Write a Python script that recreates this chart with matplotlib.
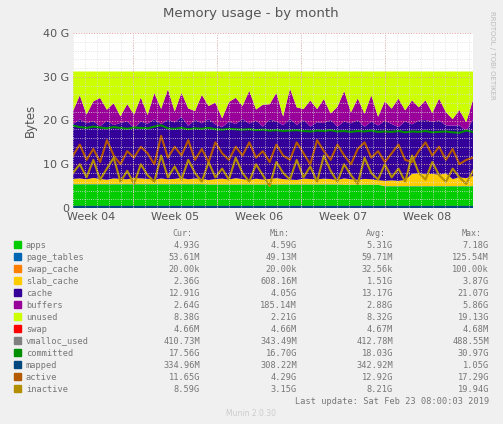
import numpy as np
import matplotlib.pyplot as plt
from matplotlib.ticker import MultipleLocator

# 60 samples over ~33.3 days, values in GB
apps = [5.4]*20 + [5.35]*20 + [5.3]*6 + [4.95]*14
page_tables = [0.06]*60
swap_cache = [0.0]*60
slab = [1.2, 1.3, 1.1, 1.4, 1.2, 1.0, 1.3, 1.2, 1.1, 1.4, 1.3, 1.2, 1.0, 1.3, 1.1, 1.2, 1.4, 1.1,
        1.3, 1.2, 1.0, 1.2, 1.3, 1.1, 1.4, 1.2, 1.0, 1.3, 1.1, 1.2, 1.4, 1.2, 1.1, 1.0, 1.3, 1.2,
        1.1, 1.3, 1.2, 1.0, 1.4, 1.2, 1.1, 1.3, 1.2, 1.0, 1.2, 1.3, 1.2, 1.4, 2.8, 2.9, 2.7, 2.8,
        2.6, 2.9, 1.6, 2.0, 1.8, 2.3]
cache = [12.5, 13.5, 12.8, 13.0, 12.0, 13.5, 12.2, 12.8, 13.2, 11.5, 13.0, 12.6, 13.8, 12.4, 13.6,
         12.9, 14.0, 12.2, 13.4, 12.7, 13.9, 12.5, 11.8, 13.2, 12.4, 13.7, 12.9, 13.3, 12.1, 13.6,
         13.0, 12.3, 13.8, 12.6, 13.4, 12.0, 13.1, 12.7, 13.5, 12.2, 13.0, 12.8, 13.6, 11.9, 13.2,
         12.5, 13.7, 12.9, 12.3, 13.4, 11.3, 12.1, 12.4, 11.9, 12.4, 11.0, 12.2, 11.9, 10.8, 12.9]
buffers = [3.0, 5.5, 2.0, 4.5, 6.5, 2.5, 5.0, 1.5, 4.0, 3.0, 5.5, 2.0, 6.0, 3.5, 7.0, 2.5, 5.5, 4.0,
           2.0, 6.5, 3.0, 5.0, 2.0, 4.5, 6.0, 3.0, 7.5, 2.5, 5.0, 3.5, 6.5, 2.0, 7.0, 4.0, 2.5, 6.0,
           3.0, 5.5, 1.5, 4.5, 7.0, 2.5, 5.0, 3.0, 6.0, 2.0, 4.5, 3.5, 6.5, 2.5, 5.5, 3.0, 4.5, 2.0,
           5.0, 3.0, 1.5, 3.5, 2.0, 4.5]
total_ram = 31.2
swap = [0.005]*60
vmalloc = [0.41]*60
committed = [18.8, 18.5, 18.3, 18.6, 18.4, 18.2, 18.5, 18.3, 18.1, 18.4, 18.3, 18.2, 18.6, 18.9,
             18.2, 18.1, 18.3, 18.0, 18.2, 18.1, 18.3, 18.0, 17.9, 18.1, 18.0, 17.9, 18.0, 17.8,
             17.9, 17.7, 17.8, 17.6, 17.7, 17.8, 17.6, 17.5, 17.7, 17.6, 17.8, 17.5, 17.6, 17.4,
             17.6, 17.5, 17.7, 17.4, 17.5, 17.4, 17.6, 17.3, 17.5, 17.4, 17.6, 17.3, 17.4, 17.5,
             17.3, 17.2, 17.7, 17.4]
mapped = [0.34]*60
active = [12.0, 14.5, 11.0, 13.5, 10.5, 15.5, 12.0, 10.0, 13.0, 11.5, 14.0, 12.5, 10.0, 16.5,
          11.5, 14.0, 12.0, 15.5, 11.0, 13.5, 10.5, 15.0, 12.5, 11.0, 14.0, 12.0, 15.0, 11.5,
          13.0, 10.5, 14.5, 12.0, 11.0, 15.0, 12.5, 10.0, 15.5, 13.0, 11.0, 14.5, 12.0, 10.0,
          13.5, 15.0, 11.5, 13.0, 10.5, 12.5, 14.5, 11.0, 10.5, 13.0, 15.0, 12.0, 14.0, 11.0,
          13.5, 10.0, 11.0, 11.5]
inactive = [8.0, 10.0, 7.0, 11.0, 6.5, 9.0, 11.5, 6.0, 8.5, 5.5, 10.0, 7.5, 6.0, 12.0, 7.0,
            9.5, 6.5, 11.0, 8.0, 6.0, 10.5, 7.0, 9.0, 6.5, 11.5, 8.0, 6.0, 10.0, 7.5, 5.0,
            10.5, 8.0, 6.5, 11.0, 7.0, 9.5, 6.0, 12.0, 8.5, 6.0, 10.0, 7.5, 5.5, 11.5, 8.0,
            6.5, 10.0, 7.0, 9.0, 6.0, 12.0, 8.0, 6.5, 10.5, 7.5, 6.0, 9.0, 7.0, 5.5, 8.5]

legend_rows = [
    ("apps", "#00CC00", "4.93G", "4.59G", "5.31G", "7.18G"),
    ("page_tables", "#0066B3", "53.61M", "49.13M", "59.71M", "125.54M"),
    ("swap_cache", "#FF8000", "20.00k", "20.00k", "32.56k", "100.00k"),
    ("slab_cache", "#FFCC00", "2.36G", "608.16M", "1.51G", "3.87G"),
    ("cache", "#330099", "12.91G", "4.05G", "13.17G", "21.07G"),
    ("buffers", "#990099", "2.64G", "185.14M", "2.88G", "5.86G"),
    ("unused", "#CCFF00", "8.38G", "2.21G", "8.32G", "19.13G"),
    ("swap", "#FF0000", "4.66M", "4.66M", "4.67M", "4.68M"),
    ("vmalloc_used", "#808080", "410.73M", "343.49M", "412.78M", "488.55M"),
    ("committed", "#008F00", "17.56G", "16.70G", "18.03G", "30.97G"),
    ("mapped", "#00487D", "334.96M", "308.22M", "342.92M", "1.05G"),
    ("active", "#B35A00", "11.65G", "4.29G", "12.92G", "17.29G"),
    ("inactive", "#B38F00", "8.59G", "3.15G", "8.21G", "19.94G"),
]
col = {r[0]: r[1] for r in legend_rows}

days = np.linspace(0, 33.3, 60)
stack = [np.array(v) for v in (apps, page_tables, swap_cache, slab, cache, buffers)]
unused = total_ram - sum(stack)
stack.append(unused)

fig = plt.figure(figsize=(5.03, 4.24), dpi=100, facecolor="#F0F0F0")
ax = fig.add_axes([73/503, 216/424, 400/503, 175/424])
ax.set_facecolor("white")
ax.stackplot(days, stack, colors=[col[n] for n in
             ("apps", "page_tables", "swap_cache", "slab_cache", "cache", "buffers", "unused")],
             linewidth=0)
ax.plot(days, swap, color=col["swap"], lw=1)
ax.plot(days, vmalloc, color=col["vmalloc_used"], lw=1)
ax.plot(days, mapped, color=col["mapped"], lw=1.5)
ax.plot(days, committed, color=col["committed"], lw=1.5)
ax.plot(days, active, color=col["active"], lw=1.5)
ax.plot(days, inactive, color=col["inactive"], lw=1.5)

ax.set_xlim(0, 33.3)
ax.set_ylim(0, 40)
ax.yaxis.set_minor_locator(MultipleLocator(2))
ax.set_yticks([0, 10, 20, 30, 40], ["0", "10 G", "20 G", "30 G", "40 G"])
bounds = [5, 12, 19, 26]
ax.set_xticks([1.5, 8.5, 15.5, 22.5, 29.5], ["Week 04", "Week 05", "Week 06", "Week 07", "Week 08"])
ax.set_xticks(np.arange(0, 33.3, 1), minor=True)
ax.grid(which="minor", color="#DDDDDD", ls=":", lw=0.6)
ax.grid(axis="y", which="major", color="#E8A0A0", ls=":", lw=0.7)
for b in bounds:
    ax.axvline(b, color="#E8A0A0", ls=":", lw=0.7)
ax.set_axisbelow(False)
ax.tick_params(length=0, labelsize=8, colors="#555555", pad=3)
ax.tick_params(which="minor", length=0)
for s in ax.spines.values():
    s.set_visible(False)
ax.set_ylabel("Bytes", fontsize=8.5, color="#555555")

fig.text(251/503, 1 - 14/424, "Memory usage - by month", ha="center", va="center",
         fontsize=9.5, color="#555555")
fig.text(492/503, 1 - 55/424, "RRDTOOL / TOBI OETIKER", rotation=270, ha="center", va="center",
         fontsize=5, color="#BBBBBB")

mono = "DejaVu Sans Mono"
tc = "#777777"
def ty(y):
    return 1 - y/424
for x, h in zip([200, 297, 393, 489], ["Cur:", "Min:", "Avg:", "Max:"]):
    fig.text(x/503 - 0.015, ty(233), h, ha="right", va="center", fontsize=6, family=mono, color=tc)
for i, (name, c, cur, mn, av, mx) in enumerate(legend_rows):
    y = 245 + 12*i
    fig.patches.append(plt.Rectangle((14/503, ty(y + 3)), 7/503, 7/424, transform=fig.transFigure,
                                     color=c))
    fig.text(26/503, ty(y), name, va="center", fontsize=6.2, family=mono, color=tc)
    for x, v in zip([200, 297, 393, 489], [cur, mn, av, mx]):
        fig.text(x/503, ty(y), v, ha="right", va="center", fontsize=6.2, family=mono, color=tc)
fig.text(489/503, ty(401), "Last update: Sat Feb 23 08:00:03 2019", ha="right", va="center",
         fontsize=6.2, family=mono, color=tc)
fig.text(251/503, ty(413), "Munin 2.0.30", ha="center", va="center", fontsize=5.5, color="#CCCCCC")

fig.savefig("out.png", dpi=100, facecolor=fig.get_facecolor())
